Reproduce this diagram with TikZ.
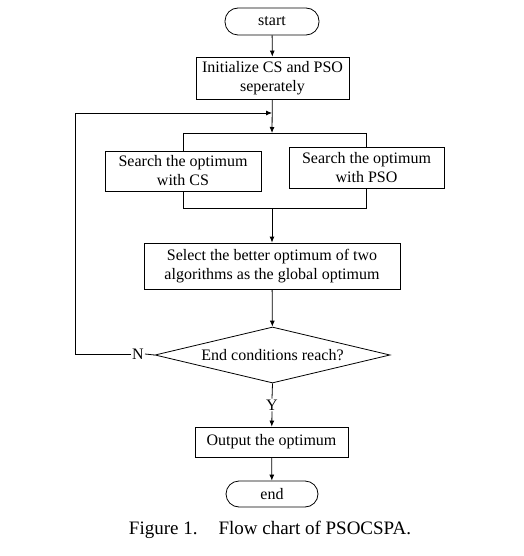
\documentclass[tikz,border=0pt]{standalone}
\usepackage{fontspec}
\setmainfont{Liberation Serif}
\usetikzlibrary{shapes.geometric,arrows.meta}
\begin{document}
\begin{tikzpicture}[x=1pt,y=-1pt,
  every node/.style={font=\fontsize{16}{19}\selectfont},
  box/.style={draw,line width=0.8pt,align=center,inner sep=0pt},
  term/.style={draw,line width=0.8pt,rounded corners=13pt,inner sep=0pt},
  ln/.style={line width=0.8pt},
  arr/.style={ln,-{Latex[length=6pt,width=5pt]}}]
\useasboundingbox (0,0) rectangle (523,556);
\node[term,minimum width=94pt,minimum height=27pt] (start) at (272,21.5) {start};
\node[box,minimum width=153pt,minimum height=42pt] (init) at (272.5,78) {Initialize CS and PSO\\seperately};
\node[box,minimum width=156pt,minimum height=40pt] (cs) at (183,171) {Search the optimum\\with CS};
\node[box,minimum width=155pt,minimum height=41pt] (pso) at (366.5,167.5) {Search the optimum\\with PSO};
\node[box,minimum width=256pt,minimum height=46pt] (sel) at (272,266) {Select the better optimum of two\\algorithms as the global optimum};
\node[draw,ln,diamond,aspect=4.2,minimum width=235pt,minimum height=56pt,inner sep=0pt] (dec) at (272.5,355) {End conditions reach?};
\node[box,minimum width=153pt,minimum height=30pt] (out) at (271.5,442) {Output the optimum};
\node[term,minimum width=92pt,minimum height=26pt] (end) at (272,494) {end};
\node[inner sep=1pt] (N) at (138,354) {N};
\node[inner sep=1pt,fill=white] (Y) at (272,405) {Y};
\node[font=\fontsize{19}{22}\selectfont] (cap) at (270,530) {Figure 1.\hspace{1.1em}Flow chart of PSOCSPA.};
\coordinate (merge) at (272,113);
\coordinate (topb) at (272,133);
\coordinate (botb) at (272,208);
\coordinate (loopc) at (75,354);
\draw[arr] (start) -- (init);
\draw[arr] (init) -- (topb);
\draw[ln] (cs.north |- topb) -- (pso.north |- topb);
\draw[ln] (cs.north |- topb) -- (cs.north);
\draw[ln] (pso.north |- topb) -- (pso.north);
\draw[ln] (cs.south) -- (cs.south |- botb) -- (pso.south |- botb) -- (pso.south);
\draw[arr] (botb) -- (sel);
\draw[arr] (sel) -- (dec);
\draw[ln] (dec.west) -- (N.east);
\draw[arr] (N.west) -- (loopc) -- (loopc |- merge) -- (merge);
\draw[ln] (dec.south) -- (Y.north);
\draw[arr] (Y.south) -- (out);
\draw[arr] (out) -- (end);
\end{tikzpicture}
\end{document}
